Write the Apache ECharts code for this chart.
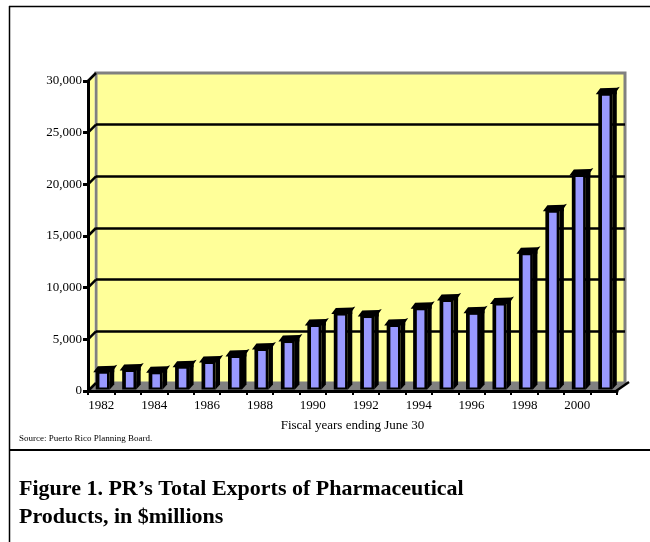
<!DOCTYPE html>
<html><head><meta charset="utf-8">
<script src="https://cdn.jsdelivr.net/npm/echarts@6/dist/echarts.min.js"></script>
<style>html,body{margin:0;padding:0;background:#fff}#c{width:650px;height:542px}</style>
</head><body><div id="c"></div>
<script>
// ---- data ----
const categories = ['1982','1983','1984','1985','1986','1987','1988','1989','1990','1991',
                    '1992','1993','1994','1995','1996','1997','1998','1999','2000','2001'];
const exportsValues = [1720, 1890, 1665, 2205, 2660, 3240, 3920, 4690, 6240, 7350,
                       7110, 6240, 7860, 8660, 7420, 8320, 13180, 17290, 20760, 28615];
const yTickValues = [0, 5000, 10000, 15000, 20000, 25000, 30000];
const yMin = 0, yMax = 30000, yInterval = 5000;
const xAxisTitle = 'Fiscal years ending June 30';
const sourceText = 'Source: Puerto Rico Planning Board.';
const figureTitle = 'Figure 1. PR\u2019s Total Exports of Pharmaceutical\nProducts, in $millions';

// ---- style ----
const DEPTH = 8;
const SERIF = '"Liberation Serif", "Times New Roman", serif';
const YELLOW = '#FFFF99', GRAY = '#808080', BLUE = '#9999FF';

const chart = echarts.init(document.getElementById('c'), null, {renderer: 'canvas'});

function frameItem(params, api) {
  const cs = params.coordSys;
  const x = cs.x, y = cs.y, w = cs.width, h = cs.height, D = DEPTH;
  const kids = [];
  kids.push({type: 'polygon', shape: {points: [[x, y], [x + D - 1.5, y - D + 1.5], [x + D - 1.5, y + h - D], [x, y + h]]},
             style: {fill: YELLOW}});
  kids.push({type: 'polygon', shape: {points: [[x, y + h], [x + D, y + h - D], [x + w + D, y + h - D], [x + w, y + h]]},
             style: {fill: GRAY}});
  yTickValues.forEach(function (t) {
    const yy = api.coord([0, t])[1];
    kids.push({type: 'line', shape: {x1: x, y1: yy, x2: x + D, y2: yy - D},
               style: {stroke: '#000', lineWidth: 2.5}});
  });
  kids.push({type: 'line', shape: {x1: x + w - 1, y1: y + h, x2: x + w + D + 4, y2: y + h - D - 1},
             style: {stroke: '#000', lineWidth: 2.5}});
  return {type: 'group', children: kids};
}

function barItem(params, api) {
  const i = api.value(0), v = api.value(1);
  const p = api.coord([i, v]);
  const b = api.coord([i, 0]);
  const cx = p[0];
  const top = p[1] - 2, bot = b[1] - 1.5;
  return {type: 'group', children: [
    {type: 'polygon', shape: {points: [[cx + 8.5, top], [cx + 13, top - 5], [cx + 13, bot - 5], [cx + 8.5, bot]]},
     style: {fill: '#000'}},
    {type: 'polygon', shape: {points: [[cx - 8, top + 1], [cx - 3.5, top - 5], [cx + 13, top - 5.5], [cx + 16, top - 6.5],
                                       [cx + 13, top - 2], [cx + 13, top + 1]]},
     style: {fill: '#000'}},
    {type: 'rect', shape: {x: cx - 5.5, y: top, width: 14, height: bot - top}, style: {fill: '#000'}},
    {type: 'rect', shape: {x: cx - 1.8, y: top + 2.5, width: 7.6, height: Math.max(0, bot - top - 4.5)}, style: {fill: BLUE}}
  ]};
}

const option = {
  animation: false,
  backgroundColor: '#fff',
  title: [
    {text: sourceText, left: 19, top: 434, padding: 0,
     textStyle: {fontFamily: SERIF, fontSize: 9, fontWeight: 'normal', color: '#000'}},
    {text: figureTitle, left: 19, top: 475, padding: 0,
     textStyle: {fontFamily: SERIF, fontSize: 22, fontWeight: 'bold', lineHeight: 28, color: '#000'}}
  ],
  graphic: [
    {type: 'line', shape: {x1: 9, y1: 6.5, x2: 650, y2: 6.5}, style: {stroke: '#000', lineWidth: 1.5}},
    {type: 'line', shape: {x1: 9.5, y1: 6, x2: 9.5, y2: 542}, style: {stroke: '#000', lineWidth: 1.5}},
    {type: 'line', shape: {x1: 9, y1: 450, x2: 650, y2: 450}, style: {stroke: '#000', lineWidth: 2}}
  ],
  grid: [
    {left: 88, top: 81, width: 529, height: 310, containLabel: false},
    {left: 96, top: 73, width: 529, height: 310, containLabel: false, show: true,
     backgroundColor: YELLOW, borderColor: GRAY, borderWidth: 3}
  ],
  xAxis: [
    {gridIndex: 0, type: 'category', data: categories, boundaryGap: true, z: 10,
     axisLine: {show: true, lineStyle: {color: '#000', width: 3}},
     axisTick: {show: true, interval: 0, length: 4, lineStyle: {color: '#000', width: 2}},
     axisLabel: {interval: 1, margin: 8, fontFamily: SERIF, fontSize: 13, color: '#000'},
     name: xAxisTitle, nameLocation: 'middle', nameGap: 28,
     nameTextStyle: {fontFamily: SERIF, fontSize: 13, color: '#000'}},
    {gridIndex: 1, type: 'category', data: categories, show: false}
  ],
  yAxis: [
    {gridIndex: 0, type: 'value', min: yMin, max: yMax, interval: yInterval, z: 10,
     axisLine: {show: true, lineStyle: {color: '#000', width: 3}},
     axisTick: {show: true, length: 5, lineStyle: {color: '#000', width: 3}},
     axisLabel: {margin: 6, fontFamily: SERIF, fontSize: 13, color: '#000',
                 formatter: function (v) { return v.toLocaleString('en-US'); }},
     splitLine: {show: false}},
    {gridIndex: 1, type: 'value', min: yMin, max: yMax, interval: yInterval,
     axisLine: {show: false}, axisTick: {show: false}, axisLabel: {show: false},
     splitLine: {show: true, showMinLine: false, showMaxLine: false, lineStyle: {color: '#000', width: 2.5}}}
  ],
  series: [
    {type: 'custom', xAxisIndex: 0, yAxisIndex: 0, z: 1, silent: true,
     data: [[0, 0]], renderItem: frameItem, clip: false},
    {type: 'custom', xAxisIndex: 0, yAxisIndex: 0, z: 2, name: 'Exports',
     data: exportsValues.map(function (v, i) { return [i, v]; }),
     renderItem: barItem, clip: false}
  ]
};
chart.setOption(option);
</script>
</body></html>
